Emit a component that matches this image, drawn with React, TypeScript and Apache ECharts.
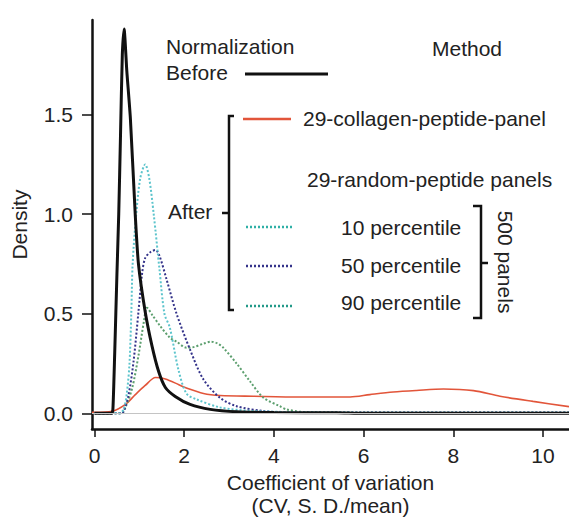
import React, { useEffect, useRef } from "react";
import * as echarts from "echarts";

// Before normalization
const beforeX = [0, 0.38, 0.41, 0.45, 0.5, 0.54, 0.58, 0.62, 0.66, 0.72, 0.8, 0.91, 0.98, 1.13, 1.28, 1.43, 1.58, 1.8, 2.13, 2.58, 3.17, 4.0, 5.4, 6, 8, 10.58];
const beforeY = [0, 0, 0.02, 0.3, 0.7, 1.0, 1.4, 1.8, 1.93, 1.72, 1.48, 0.99, 0.75, 0.51, 0.34, 0.21, 0.13, 0.085, 0.045, 0.02, 0.008, 0.004, 0.003, 0, 0, 0];

// 29-collagen-peptide-panel
const collagenX = [-0.056, 0, 0.39, 0.69, 0.91, 1.13, 1.36, 1.58, 1.88, 2.05, 2.43, 2.8, 3.54, 4.58, 5.7, 6.14, 6.66, 7.18, 7.78, 8.45, 9.04, 9.78, 10.58];
const collagenY = [0.005, 0.005, 0.01, 0.045, 0.094, 0.14, 0.18, 0.173, 0.144, 0.127, 0.1, 0.09, 0.086, 0.082, 0.082, 0.094, 0.107, 0.115, 0.122, 0.114, 0.086, 0.06, 0.034];

// 10 percentile
const p10X = [0, 0.55, 0.65, 0.72, 0.78, 0.82, 0.85, 0.93, 1.02, 1.13, 1.22, 1.32, 1.45, 1.56, 1.68, 1.87, 2.05, 2.28, 2.8, 3.53, 5, 7, 10.58];
const p10Y = [0, 0, 0.02, 0.1, 0.25, 0.5, 0.75, 1.0, 1.18, 1.25, 1.18, 1.0, 0.72, 0.5, 0.43, 0.22, 0.1, 0.07, 0.03, 0.012, 0.005, 0.003, 0.003];

// 50 percentile
const p50X = [0, 0.6, 0.65, 0.76, 0.87, 0.98, 1.06, 1.13, 1.25, 1.36, 1.45, 1.61, 1.83, 2.13, 2.43, 2.8, 3.17, 3.76, 4.28, 6, 8, 10.58];
const p50Y = [0, 0, 0.01, 0.094, 0.26, 0.51, 0.7, 0.78, 0.81, 0.82, 0.79, 0.67, 0.5, 0.32, 0.17, 0.078, 0.036, 0.012, 0.005, 0.004, 0.004, 0.004];

// 90 percentile
const p90X = [0, 0.6, 0.69, 0.84, 0.98, 1.1, 1.17, 1.3, 1.46, 1.68, 1.83, 2.05, 2.13, 2.43, 2.6, 2.75, 2.87, 3.17, 3.47, 3.76, 4.13, 4.28, 4.66, 6, 10.58];
const p90Y = [0, 0, 0.03, 0.127, 0.29, 0.46, 0.53, 0.49, 0.44, 0.38, 0.36, 0.33, 0.33, 0.35, 0.36, 0.35, 0.33, 0.25, 0.16, 0.08, 0.036, 0.02, 0.007, 0.004, 0.004];

const xTicks = [0, 2, 4, 6, 8, 10];
const yTicks = [0, 0.5, 1.0, 1.5];

const zip = (xs: number[], ys: number[]) => xs.map((x, i) => [x, ys[i]]);

const FONT = "'Liberation Sans', Arial, Helvetica, sans-serif";
const TXT = "#222";

export default function App() {
  const ref = useRef<HTMLDivElement>(null);
  useEffect(() => {
    const chart = echarts.init(ref.current!, null, { renderer: "svg" });
    const text = (t: string, x: number, y: number, extra: any = {}) => ({
      type: "text",
      x,
      y,
      ...extra,
      style: { text: t, fontSize: 21, fontFamily: FONT, fill: TXT, verticalAlign: "middle", align: "left", ...(extra.style || {}) },
    });
    const line = (x1: number, y1: number, x2: number, y2: number, stroke: string, lineWidth: number, lineDash?: number[]) => ({
      type: "line",
      shape: { x1, y1, x2, y2 },
      style: { stroke, lineWidth, lineDash },
    });
    chart.setOption({
      animation: false,
      backgroundColor: "#fff",
      grid: { left: 92, right: 0, top: 20, bottom: 87 },
      xAxis: {
        type: "value",
        min: -0.056,
        max: 10.58,
        axisLine: { onZero: false, lineStyle: { color: "#111", width: 2.5 } },
        axisTick: { customValues: xTicks, length: 8, lineStyle: { color: "#111", width: 1.5 } },
        axisLabel: { customValues: xTicks, fontSize: 21, color: TXT, fontFamily: FONT, margin: 16 },
        splitLine: { show: false },
        name: "Coefficient of variation\n(CV, S. D./mean)",
        nameLocation: "middle",
        nameGap: 41,
        nameTextStyle: { fontSize: 21, lineHeight: 23, color: TXT, fontFamily: FONT },
      },
      yAxis: {
        type: "value",
        min: -0.079,
        max: 1.975,
        axisLine: { show: true, onZero: false, lineStyle: { color: "#111", width: 2.5 } },
        axisTick: { show: true, customValues: yTicks, length: 10, lineStyle: { color: "#111", width: 1.5 } },
        axisLabel: { customValues: yTicks, fontSize: 21, color: TXT, fontFamily: FONT, margin: 19, formatter: (v: number) => v.toFixed(1) },
        splitLine: { show: false },
        name: "Density",
        nameLocation: "middle",
        nameGap: 62,
        nameTextStyle: { fontSize: 21, color: TXT, fontFamily: FONT },
      },
      series: [
        {
          name: "29-collagen-peptide-panel",
          type: "line",
          data: zip(collagenX, collagenY),
          showSymbol: false,
          smooth: 0.3,
          lineStyle: { color: "#e2553a", width: 1.6 },
          markLine: {
            silent: true,
            symbol: "none",
            label: { show: false },
            lineStyle: { color: "#c4c4c4", width: 1.2, type: "solid" },
            data: [{ yAxis: 0 }],
          },
          z: 2,
        },
        {
          name: "90 percentile",
          type: "line",
          data: zip(p90X, p90Y),
          showSymbol: false,
          smooth: 0.3,
          lineStyle: { color: "#5c9f6e", width: 2, type: [2, 2] },
          z: 3,
        },
        {
          name: "50 percentile",
          type: "line",
          data: zip(p50X, p50Y),
          showSymbol: false,
          smooth: 0.3,
          lineStyle: { color: "#34338a", width: 2, type: [2, 2] },
          z: 3,
        },
        {
          name: "10 percentile",
          type: "line",
          data: zip(p10X, p10Y),
          showSymbol: false,
          smooth: 0.3,
          lineStyle: { color: "#5cc4cc", width: 2, type: [2, 2] },
          z: 3,
        },
        {
          name: "Before",
          type: "line",
          data: zip(beforeX, beforeY),
          showSymbol: false,
          smooth: 0.2,
          lineStyle: { color: "#111", width: 3 },
          z: 4,
        },
      ],
      graphic: [
        text("Normalization", 166, 46),
        text("Before", 166, 72),
        line(245, 74, 328, 74, "#111", 3),
        text("Method", 432, 48),
        text("After", 168, 211),
        {
          type: "polyline",
          shape: { points: [[234, 116], [229, 116], [229, 310], [234, 310]] },
          style: { stroke: "#111", lineWidth: 2.5, fill: "none" },
        },
        line(222, 213, 229, 213, "#111", 2.5),
        line(243, 119, 291, 119, "#e2553a", 2.5),
        text("29-collagen-peptide-panel", 303, 118),
        text("29-random-peptide panels", 307, 179),
        line(246, 227, 293, 227, "#2fb0a6", 2.5, [2, 2]),
        text("10 percentile", 341, 227),
        line(246, 266, 293, 266, "#34338a", 2.5, [2, 2]),
        text("50 percentile", 341, 265),
        line(246, 306, 293, 306, "#229988", 2.5, [2, 2]),
        text("90 percentile", 341, 302),
        {
          type: "polyline",
          shape: { points: [[473, 206], [481, 206], [481, 318], [473, 318]] },
          style: { stroke: "#111", lineWidth: 2.5, fill: "none" },
        },
        line(481, 263, 488, 263, "#111", 2.5),
        {
          type: "text",
          x: 505,
          y: 262,
          rotation: -Math.PI / 2,
          style: { text: "500 panels", fontSize: 21, fontFamily: FONT, fill: TXT, align: "center", verticalAlign: "middle" },
        },
      ],
    });
    return () => chart.dispose();
  }, []);
  return <div ref={ref} style={{ position: "fixed", left: 0, top: 0, width: 569, height: 522, background: "#fff" }} />;
}
